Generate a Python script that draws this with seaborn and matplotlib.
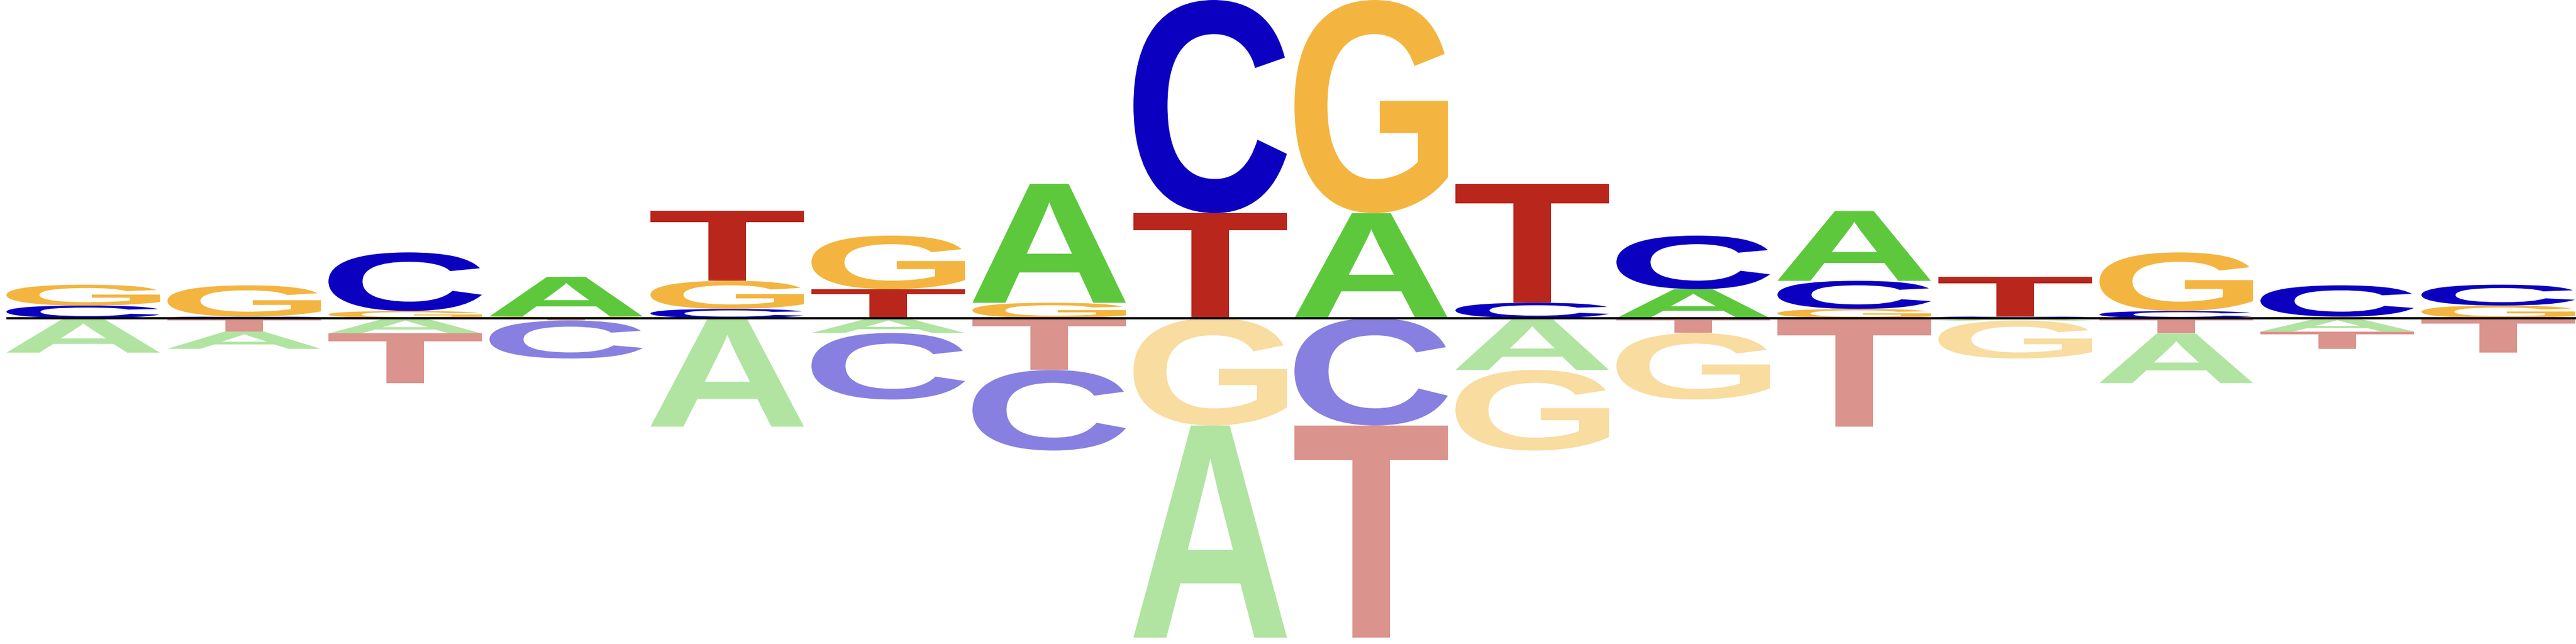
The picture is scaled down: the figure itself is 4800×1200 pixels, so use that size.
import numpy as np
import pandas as pd
import matplotlib
matplotlib.use("Agg")
import matplotlib.pyplot as plt
import seaborn as sns
from matplotlib.textpath import TextPath
from matplotlib.patches import PathPatch
from matplotlib.font_manager import FontProperties
from matplotlib.transforms import Affine2D

# letter heights per position (positive = enriched, negative = depleted)
positions = list(range(1, 17))
bases = ["A", "C", "G", "T"]

pos_A = [0, 0, 0, 0.245, 0, 0, 0.736, 0, 0.65, 0, 0.179, 0.432, 0, 0, 0, 0]
pos_C = [0.078, 0.009, 0.363, 0, 0.057, 0, 0, 1.32, 0, 0.095, 0.332, 0.174, 0.010, 0.044, 0.194, 0.129]
pos_G = [0.129, 0.194, 0.044, 0.010, 0.174, 0.332, 0.095, 0, 1.32, 0, 0, 0.057, 0, 0.363, 0.009, 0.078]
pos_T = [0, 0, 0, 0, 0.432, 0.179, 0, 0.65, 0, 0.736, 0, 0, 0.245, 0, 0, 0]

neg_A = [0.214, 0.107, 0.095, 0, 0.672, 0.092, 0, 1.313, 0, 0.321, 0, 0, 0.015, 0.307, 0.083, 0]
neg_C = [0, 0, 0, 0.235, 0, 0.412, 0.499, 0, 0.665, 0, 0, 0, 0, 0, 0, 0]
neg_G = [0, 0, 0, 0, 0, 0, 0, 0.665, 0, 0.499, 0.412, 0, 0.235, 0, 0, 0]
neg_T = [0, 0.083, 0.307, 0.015, 0, 0, 0.321, 0, 1.313, 0, 0.092, 0.672, 0, 0.095, 0.107, 0.214]

pos_colors = {"A": "#5dc83c", "C": "#0c00c0", "G": "#f3b540", "T": "#b9261c"}
neg_colors = {"A": "#b0e4a0", "C": "#8880e0", "G": "#f8dca0", "T": "#db938d"}

pos_df = pd.DataFrame({"A": pos_A, "C": pos_C, "G": pos_G, "T": pos_T}, index=positions)
neg_df = pd.DataFrame({"A": neg_A, "C": neg_C, "G": neg_G, "T": neg_T}, index=positions)

sns.set_style("white")
fp = FontProperties(family="Liberation Sans", weight="bold")

letter_w = 0.953


def draw_letter(ax, ch, x, y, w, h, color):
    tp = TextPath((0, 0), ch, size=1, prop=fp)
    bb = tp.get_extents()
    t = Affine2D().translate(-bb.x0, -bb.y0).scale(w / bb.width, h / bb.height).translate(x, y)
    ax.add_patch(PathPatch(t.transform_path(tp), fc=color, ec="none", lw=0))


fig = plt.figure(figsize=(16, 4), dpi=300)
ax = fig.add_axes([0, 0, 1, 1])

for i, p in enumerate(positions):
    x0 = i - letter_w / 2
    # positive stack, smallest next to the baseline
    row = pos_df.loc[p]
    y = 0.0
    for b in row.sort_values().index:
        h = row[b]
        if h <= 0:
            continue
        draw_letter(ax, b, x0, y, letter_w, h, pos_colors[b])
        y += h
    # negative stack, smallest next to the baseline
    row = neg_df.loc[p]
    y = 0.0
    for b in row.sort_values().index:
        h = row[b]
        if h <= 0:
            continue
        y -= h
        draw_letter(ax, b, x0, y, letter_w, h, neg_colors[b])

max_pos = pos_df.sum(axis=1).max()
max_neg = neg_df.sum(axis=1).max()
xmin, xmax = -0.5167, 15.4833
ax.plot([-letter_w / 2, xmax], [0, 0], color="black", lw=1.0, zorder=5, solid_capstyle="butt")
ax.set_xlim(xmin, xmax)
ax.set_ylim(-max_neg - 0.04, max_pos)
ax.set_xticks([])
ax.set_yticks([])
sns.despine(ax=ax, left=True, bottom=True)

fig.savefig("out.png", dpi=300, facecolor="white")
